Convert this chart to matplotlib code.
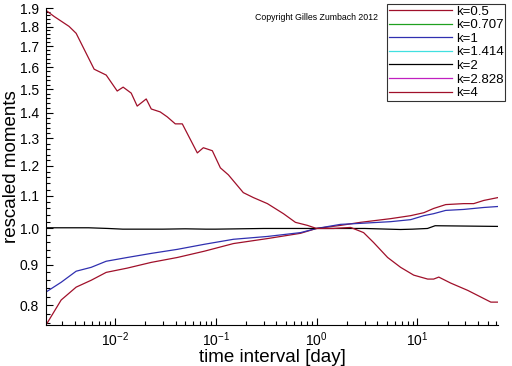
import numpy as np
import matplotlib.pyplot as plt
from matplotlib.ticker import FixedLocator, NullFormatter, LogLocator, FuncFormatter

plt.rcParams["font.family"] = ["Liberation Sans", "DejaVu Sans"]
plt.rcParams["mathtext.fontset"] = "custom"
plt.rcParams["mathtext.rm"] = "Liberation Sans"
plt.rcParams["mathtext.it"] = "Liberation Sans:italic"

# time interval [day] and rescaled moments
x_k05 = [0.00208, 0.00294, 0.00414, 0.00583, 0.00822, 0.0133, 0.023, 0.0417,
         0.0773, 0.150, 0.326, 0.694, 1.0, 1.73, 2.73, 5.43, 8.58, 11.6,
         14.5, 19.1, 28.8, 36.2, 45.5, 62.7]
y_k05 = [0.755, 0.812, 0.843, 0.860, 0.880, 0.891, 0.906, 0.919,
         0.936, 0.957, 0.971, 0.986, 1.0, 1.009, 1.018, 1.029, 1.038, 1.047,
         1.060, 1.072, 1.075, 1.075, 1.085, 1.094]

x_k1 = [0.00208, 0.00294, 0.00414, 0.00583, 0.00822, 0.0133, 0.023, 0.0417,
        0.0773, 0.150, 0.326, 0.694, 1.0, 1.73, 2.73, 5.43, 8.58, 11.6,
        14.5, 19.1, 28.8, 45.5, 62.7]
y_k1 = [0.831, 0.855, 0.883, 0.893, 0.909, 0.919, 0.930, 0.941,
        0.955, 0.969, 0.977, 0.988, 1.0, 1.012, 1.015, 1.020, 1.026, 1.038,
        1.044, 1.054, 1.057, 1.063, 1.066]

x_k2 = [0.00208, 0.0055, 0.0086, 0.012, 0.03, 0.05, 0.08, 0.1, 0.3, 1.0,
        3.0, 6.8, 9.0, 12.6, 15.0, 62.7]
y_k2 = [1.002, 1.002, 1.000, 0.998, 0.998, 0.999, 0.998, 0.998, 1.000, 1.0,
        1.000, 0.997, 0.998, 1.000, 1.008, 1.006]

x_k4 = [0.00208, 0.0025, 0.00352, 0.00414, 0.00624, 0.00822, 0.01057, 0.0121,
        0.01455, 0.01668, 0.0205, 0.023, 0.0282, 0.0331, 0.0398, 0.0467,
        0.0658, 0.0755, 0.0927, 0.1114, 0.1337, 0.188, 0.237, 0.326, 0.470,
        0.618, 0.814, 1.0, 1.475, 2.18, 2.93, 3.68, 5.07, 6.82, 9.19, 12.65,
        14.5, 16.3, 21.4, 31.6, 42.6, 53.5, 62.7]
y_k4 = [1.887, 1.854, 1.801, 1.765, 1.590, 1.563, 1.492, 1.509,
        1.483, 1.428, 1.458, 1.416, 1.404, 1.384, 1.356, 1.356,
        1.246, 1.265, 1.254, 1.193, 1.169, 1.110, 1.094, 1.075, 1.044,
        1.018, 1.009, 1.0, 1.0, 1.003, 0.988, 0.960, 0.919, 0.893, 0.873, 0.863,
        0.863, 0.868, 0.853, 0.835, 0.819, 0.807, 0.807]

# series without visible data in the reference
x_empty = []
y_empty = []

fig = plt.figure(figsize=(5.12, 3.66), dpi=100)
ax = fig.add_axes([46 / 512, 41 / 366, 452 / 512, 317 / 366])

lw = 0.9
ax.plot(x_k05, y_k05, color="#a0102a", lw=lw, label="k=0.5")
ax.plot(x_empty, y_empty, color="#20a020", lw=lw, label="k=0.707")
ax.plot(x_k1, y_k1, color="#3030b0", lw=lw, label="k=1")
ax.plot(x_empty, y_empty, color="#40e0e0", lw=lw, label="k=1.414")
ax.plot(x_k2, y_k2, color="black", lw=lw, label="k=2")
ax.plot(x_empty, y_empty, color="#c020c0", lw=lw, label="k=2.828")
ax.plot(x_k4, y_k4, color="#a0102a", lw=lw, label="k=4")

ax.set_xscale("log")
ax.set_yscale("log")
ax.set_xlim(0.00208, 63)
ax.set_ylim(0.755, 1.9)

ax.xaxis.set_major_locator(LogLocator(base=10, numticks=10))
ax.xaxis.set_minor_locator(LogLocator(base=10, subs=np.arange(2, 10), numticks=20))
ax.xaxis.set_minor_formatter(NullFormatter())

major_y = np.round(np.arange(0.8, 1.91, 0.1), 2)
minor_y = [v for v in np.round(np.arange(0.76, 1.9, 0.02), 2)
           if not np.any(np.isclose(v, major_y))]
ax.yaxis.set_major_locator(FixedLocator(major_y))
ax.yaxis.set_minor_locator(FixedLocator(minor_y))
ax.yaxis.set_major_formatter(FuncFormatter(lambda v, p: f"{v:.1f}"))
ax.yaxis.set_minor_formatter(NullFormatter())

ax.tick_params(which="both", direction="in", width=0.8, labelsize=10, colors="black")
ax.tick_params(which="major", length=5)
ax.tick_params(which="minor", length=3)
ax.tick_params(axis="x", pad=4)
ax.tick_params(axis="y", pad=5)

for s in ["top", "right"]:
    ax.spines[s].set_visible(False)
for s in ["left", "bottom"]:
    ax.spines[s].set_linewidth(0.8)

ax.set_xlabel("time interval [day]", fontsize=13.5, labelpad=0)
ax.set_ylabel("rescaled moments", fontsize=13.5, labelpad=0)

fig.text(255 / 512, 1 - 17 / 366, "Copyright Gilles Zumbach 2012",
         fontsize=6.3, va="center", ha="left")

leg = fig.legend(loc="upper left", bbox_to_anchor=(387 / 512, 1 - 4 / 366),
                 fontsize=9.5, frameon=True, fancybox=False, handlelength=4.8,
                 handletextpad=0.3, labelspacing=0.1, borderpad=0.12,
                 borderaxespad=0)
leg.get_frame().set_edgecolor("black")
leg.get_frame().set_linewidth(0.8)

fig.savefig("out.png", dpi=100, facecolor="white")
plt.close(fig)
